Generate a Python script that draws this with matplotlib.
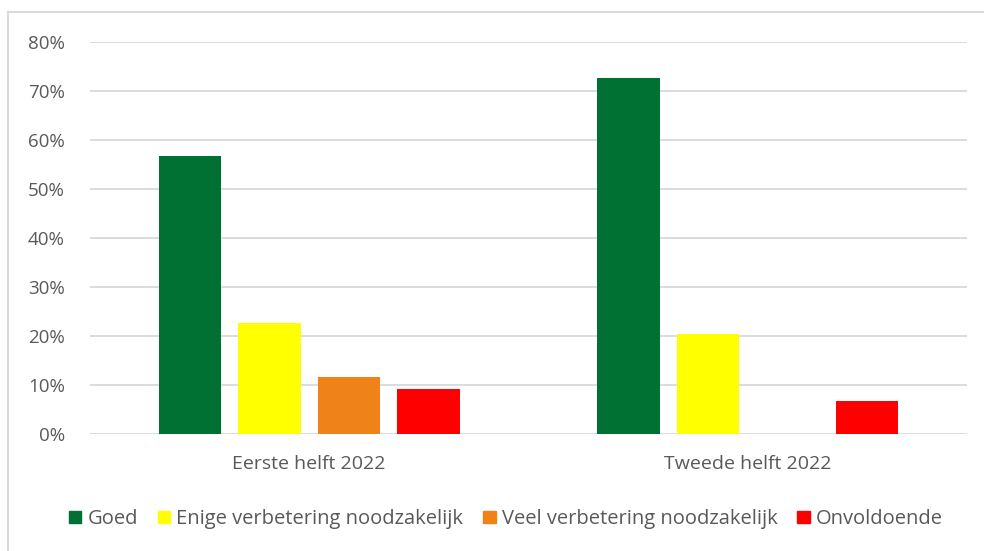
import matplotlib.pyplot as plt
import numpy as np
from matplotlib.lines import Line2D
from matplotlib.patches import Patch

plt.rcParams['font.family'] = ['Open Sans', 'DejaVu Sans']

groups = ["Eerste helft 2022", "Tweede helft 2022"]
series = ["Goed", "Enige verbetering noodzakelijk", "Veel verbetering noodzakelijk", "Onvoldoende"]
values = [
    [56.8, 72.7],   # Goed
    [22.6, 20.4],   # Enige verbetering noodzakelijk
    [11.6, 0.0],    # Veel verbetering noodzakelijk
    [9.1, 6.7],     # Onvoldoende
]
colors = ["#007033", "#FFFF00", "#F0821A", "#FF0000"]
yticks = [0, 10, 20, 30, 40, 50, 60, 70, 80]

txt = "#595959"
grid = "#D9D9D9"

fig = plt.figure(figsize=(9.84, 5.51), dpi=100)
ax = fig.add_axes([90 / 984, 1 - 434 / 551, (967 - 90) / 984, (434 - 42) / 551])

x = np.arange(len(groups))
width = 0.1414
step = 0.1813
for i, (name, vals) in enumerate(zip(series, values)):
    offs = (i - 1.5) * step
    ax.bar(x + offs, vals, width, color=colors[i], label=name, zorder=3)

ax.set_xlim(-0.5, 1.5)
ax.set_ylim(0, 80)
ax.set_yticks(yticks)
ax.set_yticklabels([f"{t}%" for t in yticks])
ax.set_xticks(x)
ax.set_xticklabels(groups)
ax.tick_params(axis='y', length=0, colors=txt, labelsize=13.5, pad=18)
ax.tick_params(axis='x', length=0, colors=txt, labelsize=14, pad=15)
ax.grid(axis='y', color=grid, linewidth=1.3, zorder=0)
for s in ax.spines.values():
    s.set_visible(False)

handles = [Patch(color=c) for c in colors]
leg = fig.legend(handles, series, loc='center', bbox_to_anchor=(506 / 984, 1 - 519 / 551),
                 ncol=4, frameon=False, fontsize=14.5, handlelength=0.6, handleheight=0.6,
                 handletextpad=0.3, columnspacing=1.0)
for t in leg.get_texts():
    t.set_color(txt)

# chart border (only left and top visible in the crop)
fig.add_artist(Line2D([8 / 984, 8 / 984], [0, 1 - 12 / 551], color=grid, linewidth=1.5))
fig.add_artist(Line2D([8 / 984, 1], [1 - 12 / 551, 1 - 12 / 551], color=grid, linewidth=1.5))

fig.savefig("out.png", dpi=100)
